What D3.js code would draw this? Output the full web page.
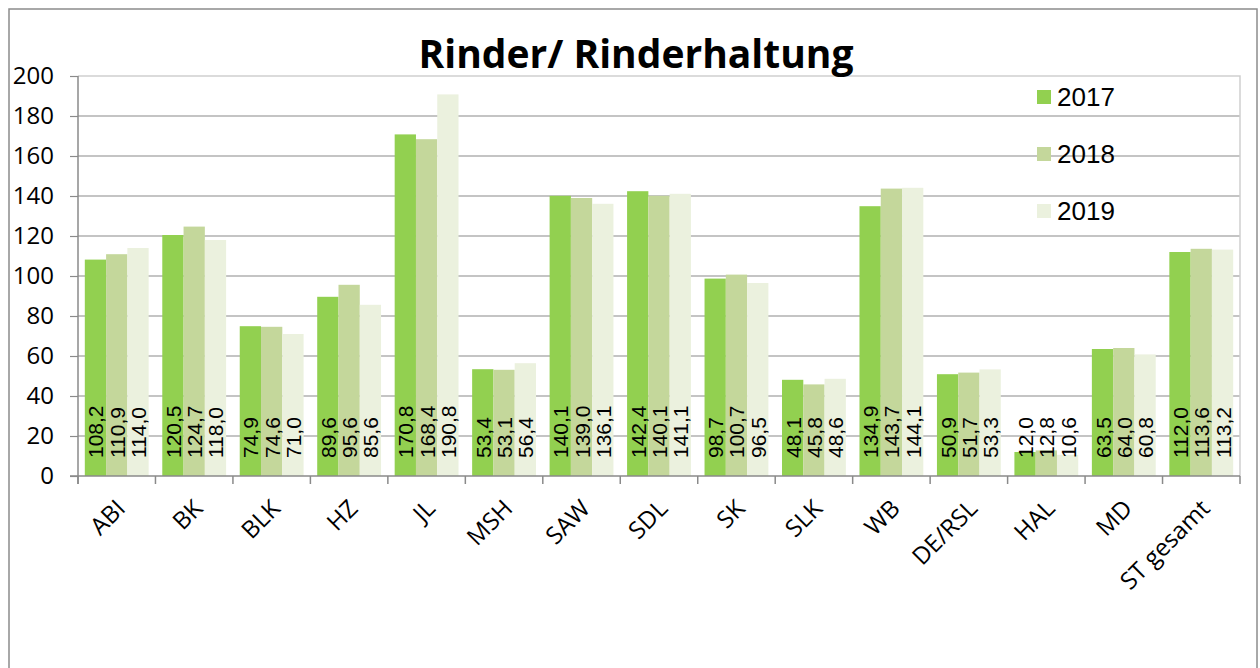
<!DOCTYPE html>
<html>
<head>
<meta charset="utf-8">
<script src="https://cdn.jsdelivr.net/npm/d3@7"></script>
<style>
  body { margin: 0; background: #fff; }
  svg { display: block; }
  .tick-label { font-family: "Open Sans", sans-serif; fill: #000; }
  .val-label, .legend-label { font-family: "Liberation Sans", Arial, sans-serif; fill: #000; }
</style>
</head>
<body>
<svg id="chart"></svg>
<script>
// Werte aus der Vorlage
const categories = ['ABI','BK','BLK','HZ','JL','MSH','SAW','SDL','SK','SLK','WB','DE/RSL','HAL','MD','ST gesamt'];
const years = ['2017','2018','2019'];
const values2017 = [108.2,120.5,74.9,89.6,170.8,53.4,140.1,142.4,98.7,48.1,134.9,50.9,12.0,63.5,112.0];
const values2018 = [110.9,124.7,74.6,95.6,168.4,53.1,139.0,140.1,100.7,45.8,143.7,51.7,12.8,64.0,113.6];
const values2019 = [114.0,118.0,71.0,85.6,190.8,56.4,136.1,141.1,96.5,48.6,144.1,53.3,10.6,60.8,113.2];
const yTicks = [0,20,40,60,80,100,120,140,160,180,200];
const colors = ['#92D050','#C4D79B','#EBF1DE'];

const W = 1260, H = 668;
const plot = { left: 78, right: 1240, top: 76, bottom: 476 };

const svg = d3.select('#chart').attr('width', W).attr('height', H);

// Rahmen
svg.append('rect')
  .attr('x', 9).attr('y', 9)
  .attr('width', 1248).attr('height', 680)
  .attr('fill', 'none').attr('stroke', '#8c8c8c').attr('stroke-width', 1.5);

const rows = categories.map((c, i) => ({
  cat: c,
  vals: [values2017[i], values2018[i], values2019[i]]
}));

const x0 = d3.scaleBand().domain(categories).range([plot.left, plot.right]).padding(0);
const x1 = d3.scaleBand().domain(years).range([0, x0.bandwidth()]).paddingInner(0).paddingOuter(0.32);
const y = d3.scaleLinear().domain([0, 200]).range([plot.bottom, plot.top]);

// Gitternetz
svg.append('g')
  .selectAll('line')
  .data(yTicks.filter(t => t > 0 && t < 200))
  .join('line')
  .attr('x1', plot.left).attr('x2', plot.right)
  .attr('y1', d => y(d)).attr('y2', d => y(d))
  .attr('stroke', '#8a8a8a').attr('stroke-width', 1.2);

// Rand der Zeichenfläche oben und rechts
svg.append('path')
  .attr('d', `M${plot.left},${y(200)}H${plot.right}V${plot.bottom}`)
  .attr('fill', 'none').attr('stroke', '#cfcfcf').attr('stroke-width', 1.5);

// Balken
const groups = svg.append('g')
  .selectAll('g')
  .data(rows)
  .join('g')
  .attr('transform', d => `translate(${x0(d.cat)},0)`);

groups.selectAll('rect')
  .data(d => d.vals.map((v, k) => ({ year: years[k], v, k })))
  .join('rect')
  .attr('x', d => x1(d.year))
  .attr('width', x1.bandwidth())
  .attr('y', d => y(d.v))
  .attr('height', d => y(0) - y(d.v))
  .attr('fill', d => colors[d.k]);

// Datenbeschriftung
const fmt = v => v.toFixed(1).replace('.', ',');
groups.selectAll('text')
  .data(d => d.vals.map((v, k) => ({ year: years[k], v, k })))
  .join('text')
  .attr('class', 'val-label')
  .attr('transform', d => `translate(${x1(d.year) + x1.bandwidth() / 2 + 8},${y(0) - 18}) rotate(-90)`)
  .style('font-size', '21px')
  .text(d => fmt(d.v));

// Y-Achse
const yAxis = svg.append('g')
  .attr('transform', `translate(${plot.left},0)`)
  .call(d3.axisLeft(y).tickValues(yTicks).tickSize(8).tickPadding(16).tickFormat(d3.format('d')));
yAxis.select('.domain').attr('stroke', '#8a8a8a').attr('stroke-width', 1.5).attr('d', `M0,${plot.top}V${plot.bottom + 8}`);
yAxis.selectAll('.tick line').attr('stroke', '#8a8a8a').attr('stroke-width', 1.2);
yAxis.selectAll('.tick text').attr('class', 'tick-label').style('font-size', '24px');

// X-Achse
const xAxisG = svg.append('g').attr('transform', `translate(0,${plot.bottom})`);
xAxisG.append('line')
  .attr('x1', plot.left - 8).attr('x2', plot.right)
  .attr('stroke', '#8a8a8a').attr('stroke-width', 1.5);
xAxisG.selectAll('.xtick')
  .data(categories.concat(['_end']))
  .join('line')
  .attr('class', 'xtick')
  .attr('x1', (d, i) => i < categories.length ? x0(d) : plot.right)
  .attr('x2', (d, i) => i < categories.length ? x0(d) : plot.right)
  .attr('y1', 0).attr('y2', 8)
  .attr('stroke', '#8a8a8a').attr('stroke-width', 1.5);
xAxisG.selectAll('.xlabel')
  .data(categories)
  .join('text')
  .attr('class', 'tick-label xlabel')
  .attr('text-anchor', 'end')
  .attr('transform', d => `translate(${x0(d) + x0.bandwidth() / 2 + 10},${34}) rotate(-45)`)
  .style('font-size', '24px')
  .text(d => d);

// Titel
svg.append('text')
  .attr('x', 636).attr('y', 68)
  .attr('text-anchor', 'middle')
  .style('font-family', '"Open Sans", sans-serif')
  .style('font-weight', 'bold')
  .style('font-size', '39px')
  .text('Rinder/ Rinderhaltung');

// Legende
const legend = svg.append('g')
  .selectAll('g')
  .data(years)
  .join('g')
  .attr('transform', (d, i) => `translate(1037,${97 + i * 57})`);
legend.append('rect')
  .attr('x', 0).attr('y', -7).attr('width', 14).attr('height', 14)
  .attr('fill', (d, i) => colors[i]);
legend.append('text')
  .attr('class', 'legend-label')
  .attr('x', 20).attr('y', 9)
  .style('font-size', '26px')
  .text(d => d);
</script>
</body>
</html>
